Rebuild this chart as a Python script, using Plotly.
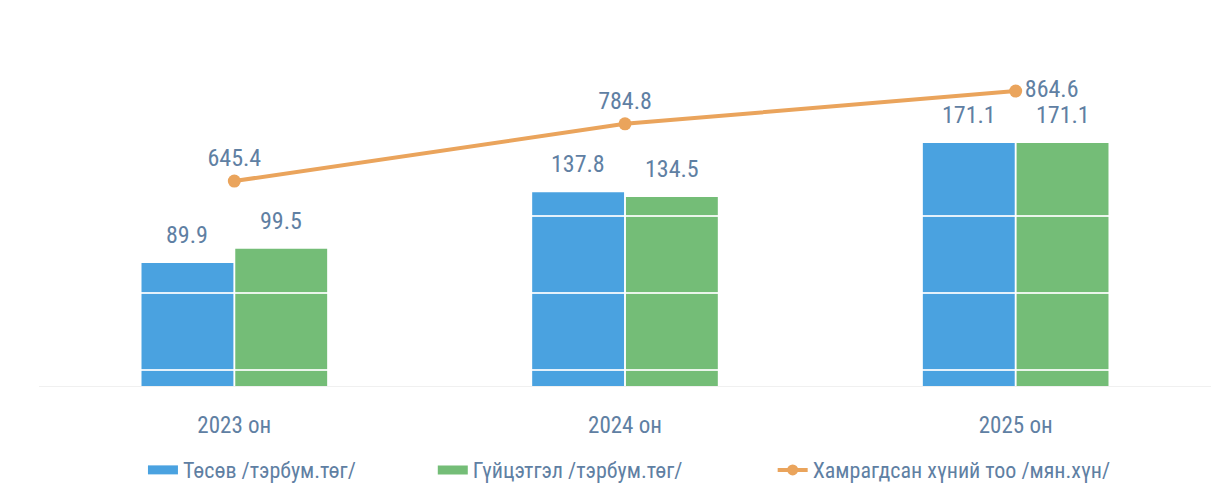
import plotly.graph_objects as go

# data
years = ['2023 он', '2024 он', '2025 он']
plan = [89.9, 137.8, 171.1]          # Төсөв /тэрбум.төг/
actual = [99.5, 134.5, 171.1]        # Гүйцэтгэл /тэрбум.төг/
people = [645.4, 784.8, 864.6]       # Хамрагдсан хүний тоо /мян.хүн/
people_pos = ['top center', 'top center', 'middle right']
grid_levels = [17.5, 69.6, 121.7]

names = ['Төсөв /тэрбум.төг/', 'Гүйцэтгэл /тэрбум.төг/', 'Хамрагдсан хүний тоо /мян.хүн/']
blue, green, orange = '#4aa2e0', '#74bd77', '#eaa45c'
label_color = '#5f80a3'
font_family = 'Roboto Condensed, Liberation Sans Narrow, Roboto, sans-serif'

fig = go.Figure()
fig.add_trace(go.Bar(x=years, y=plan, name=names[0], marker_color=blue,
                     marker_line_width=0, showlegend=False))
fig.add_trace(go.Bar(x=years, y=actual, name=names[1], marker_color=green,
                     marker_line_width=0, showlegend=False))
fig.add_trace(go.Scatter(
    x=years, y=people, name=names[2],
    yaxis='y2', mode='lines+markers+text', showlegend=False,
    line=dict(color=orange, width=4),
    marker=dict(color=orange, size=13),
    text=[f'{v:.1f}' for v in people], textposition=people_pos,
    textfont=dict(size=24, color=label_color, family=font_family),
))

# legend entries (wide swatches like the original), one legend each
fig.add_trace(go.Scatter(x=[None], y=[None], mode='lines', name=names[0],
                         line=dict(color=blue, width=9), legend='legend'))
fig.add_trace(go.Scatter(x=[None], y=[None], mode='lines', name=names[1],
                         line=dict(color=green, width=9), legend='legend2'))
fig.add_trace(go.Scatter(x=[None], y=[None], mode='lines+markers', name=names[2],
                         line=dict(color=orange, width=4),
                         marker=dict(color=orange, size=11), legend='legend3'))

# value labels above the bars
for vals, shift in [(plan, -47), (actual, 47)]:
    for yr, v in zip(years, vals):
        fig.add_annotation(
            x=yr, y=v, text=f'{v:.1f}', showarrow=False,
            xshift=shift, yshift=12, yanchor='bottom',
            font=dict(size=24, color=label_color, family=font_family),
        )

# white gridlines drawn over the bars
for g in grid_levels:
    fig.add_shape(
        type='line', xref='paper', x0=0, x1=1, yref='y', y0=g, y1=g,
        line=dict(color='rgba(255,255,255,0.85)', width=2), layer='above',
    )

legend_style = dict(orientation='h', y=-0.243, yanchor='middle', xanchor='left',
                    font=dict(size=22, color=label_color), itemwidth=30)

fig.update_layout(
    width=1223, height=496,
    margin=dict(l=31, r=20, t=32, b=118),
    paper_bgcolor='white', plot_bgcolor='white',
    barmode='group', bargap=0.52, bargroupgap=0.02,
    font=dict(family=font_family, color=label_color),
    showlegend=True,
    legend=dict(x=0.0887, **legend_style),
    legend2=dict(x=0.336, **legend_style),
    legend3=dict(x=0.626, **legend_style),
    xaxis=dict(
        showgrid=False, showline=True, linecolor='#f0f0f0', linewidth=1,
        tickfont=dict(size=23, color=label_color), ticklabelstandoff=18,
    ),
    yaxis=dict(range=[6.7, 240.8], visible=False, showgrid=False),
    yaxis2=dict(range=[146, 989], overlaying='y', visible=False, showgrid=False),
)

fig.write_html('out.html')
